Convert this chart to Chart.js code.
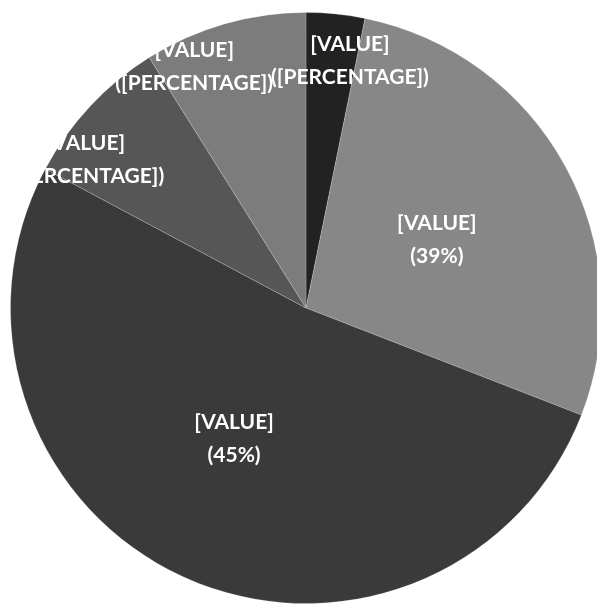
<!DOCTYPE html>
<html>
<head>
<meta charset="utf-8">
<script src="https://cdn.jsdelivr.net/npm/chart.js@4/dist/chart.umd.min.js"></script>
<style>
  html, body { margin: 0; padding: 0; background: #ffffff; overflow: hidden; }
  #wrap { width: 602px; height: 606px; position: relative; }
</style>
</head>
<body>
<div id="wrap"><canvas id="c"></canvas></div>
<script>
// ---- data ----
const categories = ['Slice 1', 'Slice 2', 'Slice 3', 'Slice 4', 'Slice 5'];
const values = [3.2, 27.7, 51.9, 8.3, 8.9];
const valueLabels = ['[VALUE]', '[VALUE]', '[VALUE]', '[VALUE]', '[VALUE]'];
const percentLabels = ['([PERCENTAGE])', '(39%)', '(45%)', '([PERCENTAGE])', '([PERCENTAGE])'];
const sliceColors = ['#222222', '#878787', '#3a3a3a', '#565656', '#7c7c7c'];

// label placement (fraction of radius, angular offset from slice middle in degrees)
const labelPlacement = [
  { frac: 0.851, dAngle: 4.3 },
  { frac: 0.499, dAngle: 1.2 },
  { frac: 0.505, dAngle: 4.15 },
  { frac: 0.899, dAngle: -9.2 },
  { frac: 0.901, dAngle: -8.8 }
];

const labelPlugin = {
  id: 'sliceLabels',
  afterDatasetsDraw(chart) {
    const ctx = chart.ctx;
    const meta = chart.getDatasetMeta(0);
    ctx.save();
    ctx.fillStyle = '#ffffff';
    ctx.font = 'bold 21px Lato, "Open Sans", sans-serif';
    ctx.textAlign = 'center';
    ctx.textBaseline = 'middle';
    meta.data.forEach((arc, i) => {
      const p = arc.getProps(['x', 'y', 'startAngle', 'endAngle', 'outerRadius'], true);
      const mid = (p.startAngle + p.endAngle) / 2 + labelPlacement[i].dAngle * Math.PI / 180;
      const d = p.outerRadius * labelPlacement[i].frac;
      const lx = p.x + Math.cos(mid) * d;
      const ly = p.y + Math.sin(mid) * d;
      ctx.fillText(valueLabels[i], lx, ly - 16.5);
      ctx.fillText(percentLabels[i], lx, ly + 16.5);
    });
    ctx.restore();
  }
};

new Chart(document.getElementById('c'), {
  type: 'pie',
  data: {
    labels: categories,
    datasets: [{
      data: values,
      backgroundColor: sliceColors,
      borderColor: 'rgba(255,255,255,0.2)',
      borderWidth: 1
    }]
  },
  options: {
    responsive: true,
    maintainAspectRatio: false,
    animation: false,
    layout: { padding: { left: 10, right: 0, top: 12, bottom: 2 } },
    plugins: {
      legend: { display: false },
      tooltip: { enabled: false }
    }
  },
  plugins: [labelPlugin]
});
</script>
</body>
</html>
